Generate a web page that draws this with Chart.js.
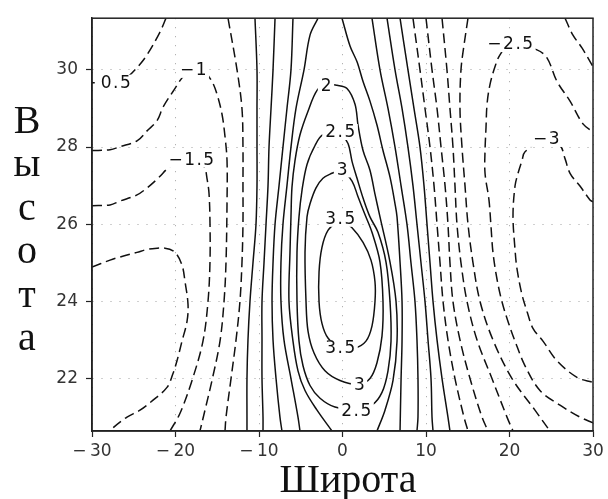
<!DOCTYPE html>
<html>
<head>
<meta charset="utf-8">
<script src="https://cdn.jsdelivr.net/npm/chart.js@4.4.1/dist/chart.umd.min.js"></script>
<style>
  html, body { margin: 0; padding: 0; background: #fff; }
  #wrap { width: 608px; height: 499px; }
</style>
</head>
<body>
<div id="wrap"><canvas id="chart" width="608" height="499"></canvas></div>
<script>
// axes
const xTicks = [-30, -20, -10, 0, 10, 20, 30];
const yTicks = [22, 24, 26, 28, 30];
const yRange = [20.64, 31.34];

// heights where the near-vertical isolines are sampled
const rowY = [31.34, 30, 29, 28, 27, 26, 25, 24, 23, 22, 21, 20.64];

// latitude of each near-vertical isoline at the heights in rowY
const negHalfWest = [-13.71, -12.63, -12.04, -11.92, -11.92, -11.92, -12.04, -12.28, -12.75, -13.35, -13.95, -14.07];
const zeroWest = [-10.48, -10.24, -10.24, -10.24, -10.24, -10.36, -10.72, -11.08, -11.32, -11.44, -11.44, -11.44];
const halfWest = [-8.08, -8.32, -8.56, -8.80, -8.92, -9.16, -9.40, -9.64, -9.64, -9.64, -9.52, -9.52];
const oneWest = [-5.93, -6.17, -6.65, -7.13, -7.60, -8.08, -8.32, -8.44, -8.32, -7.96, -7.49, -7.25];
const oneEast = [3.53, 4.49, 5.45, 6.29, 7.01, 7.72, 8.20, 8.68, 8.92, 9.04, 9.04, 8.92];
const halfEast = [5.33, 6.29, 7.13, 7.84, 8.44, 8.92, 9.40, 9.88, 10.24, 10.60, 10.72, 10.84];
const zeroEast = [6.89, 7.84, 8.56, 9.28, 9.76, 10.12, 10.48, 10.84, 11.32, 11.92, 12.63, 12.87];
const negHalfEast = [8.44, 9.28, 9.88, 10.48, 10.96, 11.32, 11.68, 12.04, 12.63, 13.47, 14.55, 15.03];
const negOneEast = [10.00, 10.72, 11.32, 11.80, 12.28, 12.63, 12.87, 13.23, 14.07, 15.27, 16.71, 17.43];
const negOneHalfEast = [11.92, 12.51, 12.87, 13.23, 13.47, 13.71, 14.19, 14.91, 16.11, 17.90, 19.70, 20.42];

// curved isolines as [latitude, height] pairs
const negHalfCorner = [[-21.14, 31.34], [-21.86, 30.98], [-23.41, 30.39], [-24.61, 30.06], [-26.05, 29.77], [-27.49, 29.67], [-30, 29.67]];
const negOne = [[-30, 27.91], [-27.84, 27.93], [-26.65, 28.01], [-24.61, 28.16], [-23.41, 28.42], [-22.22, 28.68], [-21.50, 29.03], [-20.30, 29.44], [-18.86, 29.88], [-17.66, 30.0], [-16.47, 29.93], [-15.63, 29.70], [-15.03, 29.37], [-14.43, 28.85], [-14.07, 28.27], [-13.83, 27.65], [-13.83, 26.55], [-13.95, 25.02], [-14.19, 23.99], [-14.67, 22.97], [-15.63, 21.95], [-16.47, 21.18], [-17.07, 20.64]];
const negOneHalf = [[-30, 26.48], [-27.84, 26.50], [-26.65, 26.60], [-24.61, 26.76], [-23.41, 26.94], [-22.10, 27.19], [-20.66, 27.50], [-19.46, 27.63], [-18.26, 27.68], [-17.07, 27.63], [-16.47, 27.45], [-16.23, 27.19], [-15.99, 26.81], [-15.87, 26.04], [-15.87, 25.02], [-16.11, 23.99], [-16.71, 22.97], [-18.02, 21.95], [-19.46, 21.10], [-20.66, 20.64]];
const negTwo = [[-30, 24.89], [-27.84, 25.07], [-26.65, 25.15], [-24.61, 25.27], [-23.29, 25.35], [-21.26, 25.38], [-20.06, 25.27], [-19.22, 24.94], [-18.86, 24.51], [-18.50, 23.92], [-18.62, 23.48], [-19.22, 22.97], [-19.82, 22.46], [-20.30, 22.13], [-21.02, 21.77], [-22.69, 21.44], [-24.25, 21.18], [-25.81, 21.00], [-27.49, 20.72], [-27.72, 20.64]];
const oneHalfWest = [[-2.93, 31.34], [-3.89, 30.90], [-4.61, 30.0], [-5.57, 29.0], [-6.17, 28.0], [-6.65, 27.0], [-7.13, 26.0], [-7.37, 25.0], [-7.37, 24.0], [-7.01, 23.0], [-6.17, 22.0], [-5.33, 21.0], [-5.09, 20.64]];
const oneHalfEast = [[-0.06, 31.34], [0.90, 30.62], [1.74, 30.21], [2.46, 29.70], [3.29, 29.19], [4.13, 28.57], [4.85, 27.91], [5.69, 27.22], [6.29, 26.53], [6.53, 26.19], [6.89, 25.02], [7.13, 24.0], [7.13, 22.97], [7.01, 21.95], [6.89, 20.64]];
const two = [[-1.26, 20.64], [-3.05, 21.18], [-4.49, 21.69], [-5.33, 22.20], [-5.93, 22.97], [-6.41, 24.0], [-6.29, 25.27], [-6.17, 26.19], [-6.05, 26.96], [-5.69, 27.65], [-5.09, 28.32], [-4.13, 28.93], [-3.05, 29.47], [-1.98, 29.62], [-0.66, 29.60], [0.54, 29.52], [1.50, 29.11], [1.86, 28.57], [2.46, 27.91], [3.29, 27.40], [3.89, 26.78], [4.49, 26.19], [5.69, 25.02], [6.41, 24.0], [6.53, 22.97], [6.05, 21.95], [5.09, 21.18], [4.13, 20.64]];
const twoHalf = [[-0.30, 28.39], [-2.34, 28.32], [-3.29, 28.04], [-4.25, 27.55], [-4.85, 26.88], [-5.21, 26.19], [-5.45, 25.27], [-5.45, 24.0], [-5.21, 22.97], [-4.73, 22.33], [-3.89, 21.82], [-2.69, 21.49], [-0.90, 21.26], [1.62, 21.18], [3.53, 21.31], [4.73, 21.64], [5.45, 22.20], [5.81, 22.97], [5.69, 24.0], [5.21, 25.02], [4.25, 25.79], [3.29, 26.19], [2.46, 26.68], [1.74, 27.19], [1.14, 27.63], [0.66, 28.09], [-0.30, 28.39]];
const three = [[-0.06, 27.42], [-1.26, 27.32], [-2.34, 27.19], [-3.17, 26.94], [-3.89, 26.53], [-4.25, 26.19], [-4.49, 25.27], [-4.37, 24.0], [-4.13, 23.23], [-3.41, 22.66], [-2.10, 22.20], [-0.30, 21.95], [1.98, 21.85], [3.29, 22.0], [4.13, 22.41], [4.73, 23.10], [4.85, 24.0], [4.49, 25.02], [3.53, 25.79], [2.69, 26.25], [1.86, 26.71], [1.14, 27.12], [-0.06, 27.42]];
const threeHalf = [[-0.30, 26.14], [-1.74, 25.84], [-2.46, 25.40], [-2.81, 24.76], [-2.81, 23.99], [-2.46, 23.43], [-1.74, 23.05], [-0.30, 22.79], [1.50, 22.79], [2.81, 22.97], [3.53, 23.36], [3.89, 23.99], [3.89, 24.51], [3.41, 25.07], [2.46, 25.53], [1.14, 25.91], [-0.30, 26.14]];
const negTwoEast = [[15.03, 31.34], [14.55, 30.64], [14.19, 30.0], [14.07, 29.0], [14.31, 28.0], [14.67, 27.0], [15.03, 26.0], [15.63, 25.0], [16.47, 24.0], [18.02, 23.0], [20.30, 22.0], [23.05, 21.18], [24.85, 20.64]];
const negTwoHalf = [[30, 20.85], [28.44, 21.0], [26.05, 21.31], [23.65, 21.69], [21.86, 22.33], [20.66, 22.97], [19.82, 23.48], [19.10, 23.99], [18.50, 24.58], [18.02, 25.27], [17.78, 25.96], [17.54, 26.63], [17.07, 27.32], [17.07, 27.91], [17.19, 28.52], [17.31, 29.11], [17.66, 29.62], [18.26, 30.08], [18.86, 30.39], [20.06, 30.67], [23.29, 30.52], [24.49, 30.31], [25.69, 29.70], [27.25, 29.19], [28.80, 28.60], [30, 28.39]];
const negTwoHalfCorner = [[26.65, 31.34], [27.60, 30.90], [28.68, 30.57], [30, 30.08]];
const negThree = [[30, 26.58], [29.64, 26.63], [28.44, 26.99], [27.25, 27.32], [26.65, 27.70], [26.05, 28.04], [24.37, 28.21], [21.86, 27.88], [21.50, 27.65], [21.02, 27.32], [20.66, 26.99], [20.42, 26.22], [20.66, 25.35], [20.90, 24.84], [21.50, 24.17], [22.10, 23.74], [22.81, 23.30], [24.01, 22.97], [25.69, 22.46], [28.08, 22.03], [30, 21.90]];

// inline isoline labels
const labelText = ['0.5', '\u22121', '\u22121.5', '2', '2.5', '3', '3.5', '3.5', '3', '2.5', '\u22122.5', '\u22123'];
const labelX = [-27.19, -17.90, -18.14, -1.98, -0.30, -0.06, -0.30, -0.30, 1.98, 1.62, 20.06, 24.37];
const labelY = [29.67, 30.0, 27.68, 29.60, 28.39, 27.42, 26.14, 22.79, 21.85, 21.18, 30.67, 28.21];

const column = xs => xs.map((x, i) => [x, rowY[i]]);

const contours = [
  { level: -0.5, pts: negHalfCorner },
  { level: -0.5, pts: column(negHalfWest) },
  { level: -1, pts: negOne },
  { level: -1.5, pts: negOneHalf },
  { level: -2, pts: negTwo },
  { level: 0, pts: column(zeroWest) },
  { level: 0.5, pts: column(halfWest) },
  { level: 1, pts: column(oneWest) },
  { level: 1.5, pts: oneHalfWest },
  { level: 2, pts: two },
  { level: 2.5, pts: twoHalf },
  { level: 3, pts: three },
  { level: 3.5, pts: threeHalf },
  { level: 1.5, pts: oneHalfEast },
  { level: 1, pts: column(oneEast) },
  { level: 0.5, pts: column(halfEast) },
  { level: 0, pts: column(zeroEast) },
  { level: -0.5, pts: column(negHalfEast) },
  { level: -1, pts: column(negOneEast) },
  { level: -1.5, pts: column(negOneHalfEast) },
  { level: -2, pts: negTwoEast },
  { level: -2.5, pts: negTwoHalf },
  { level: -2.5, pts: negTwoHalfCorner },
  { level: -3, pts: negThree }
];

const tickFont = { family: 'DejaVu Sans', size: 17 };
const minus = v => (v < 0 ? '\u2212\u2009' + Math.abs(v) : String(v));

const decorations = {
  id: 'decorations',
  beforeDraw(chart) {
    const { ctx, width, height } = chart;
    ctx.save();
    ctx.fillStyle = '#fff';
    ctx.fillRect(0, 0, width, height);
    ctx.restore();
  },
  afterDatasetsDraw(chart) {
    const { ctx, chartArea: a, scales: { x, y } } = chart;
    ctx.save();
    ctx.font = '17px "DejaVu Sans"';
    ctx.letterSpacing = '1.5px';
    ctx.textAlign = 'center';
    ctx.textBaseline = 'middle';
    labelText.forEach((t, i) => {
      const px = x.getPixelForValue(labelX[i]);
      const py = y.getPixelForValue(labelY[i]);
      const w = ctx.measureText(t).width;
      ctx.fillStyle = '#fff';
      ctx.fillRect(px - w / 2 - 2, py - 8, w + 4, 16);
      ctx.fillStyle = '#111';
      ctx.fillText(t, px + 1, py + 1);
    });
    ctx.letterSpacing = '0px';

    // frame around the plot
    ctx.strokeStyle = '#222';
    ctx.lineWidth = 1.5;
    ctx.strokeRect(a.left, a.top, a.right - a.left, a.bottom - a.top);

    // axis titles
    ctx.fillStyle = '#111';
    ctx.font = '40px "Liberation Serif"';
    ctx.textBaseline = 'alphabetic';
    ctx.fillText('Широта', 348, 492);
    [...'Высота'].forEach((ch, i) => ctx.fillText(ch, 27, 133 + i * 43.4));
    ctx.restore();
  }
};

const gridOpts = { color: '#a0a0a0', lineWidth: 1, drawTicks: true, tickLength: 6, tickColor: '#222', tickWidth: 1.2 };
const borderOpts = { display: true, color: '#222', width: 1.5, dash: [1, 8] };

new Chart(document.getElementById('chart'), {
  type: 'scatter',
  data: {
    datasets: contours.map(c => ({
      data: c.pts.map(([lat, h]) => ({ x: lat, y: h })),
      showLine: true,
      fill: false,
      pointRadius: 0,
      pointHoverRadius: 0,
      borderColor: '#111',
      borderWidth: 1.5,
      borderDash: c.level < 0 ? [10, 5] : [],
      tension: 0.35
    }))
  },
  options: {
    responsive: false,
    animation: false,
    events: [],
    layout: { padding: { top: 13, right: 15, left: 0, bottom: 0 } },
    plugins: { legend: { display: false }, tooltip: { enabled: false } },
    scales: {
      x: {
        type: 'linear',
        min: -30,
        max: 30,
        afterBuildTicks: s => { s.ticks = xTicks.map(v => ({ value: v })); },
        afterFit: s => { s.height = 68; },
        ticks: { font: tickFont, color: '#333', padding: 4, maxRotation: 0, callback: minus },
        grid: gridOpts,
        border: borderOpts
      },
      y: {
        type: 'linear',
        min: yRange[0],
        max: yRange[1],
        afterBuildTicks: s => { s.ticks = yTicks.map(v => ({ value: v })); },
        afterFit: s => { s.width = 92; },
        ticks: { font: tickFont, color: '#333', padding: 8, callback: minus },
        grid: gridOpts,
        border: borderOpts
      }
    }
  },
  plugins: [decorations]
});
</script>
</body>
</html>
